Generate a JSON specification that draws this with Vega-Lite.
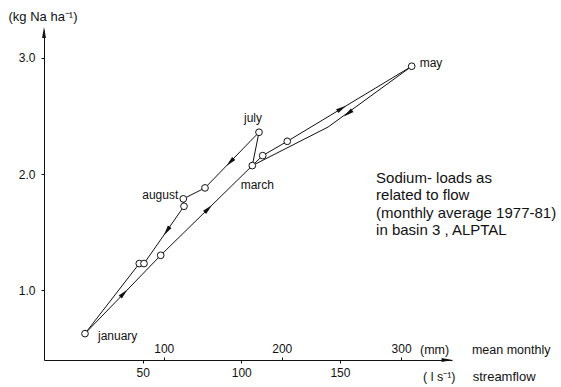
{
  "$schema": "https://vega.github.io/schema/vega-lite/v6.json",
  "width": 408,
  "height": 330,
  "autosize": "none",
  "padding": {"left": 44, "top": 30, "right": 109, "bottom": 27},
  "background": "white",
  "config": {
    "view": {"stroke": null},
    "font": "Liberation Sans",
    "axis": {"grid": false, "domainColor": "#111", "domainWidth": 1, "tickColor": "#111", "labelColor": "#111", "labelFont": "Liberation Sans", "labelFontSize": 12, "titleFont": "Liberation Sans", "titleColor": "#111"},
    "text": {"font": "Liberation Sans", "color": "#111", "fontSize": 12}
  },
  "datasets": {
    "samples": [
      {"id": "p1", "label": "january", "kind": "sample", "flow": 20.78, "load": 0.627},
      {"id": "p2", "label": null, "kind": "sample", "flow": 48.3, "load": 1.23},
      {"id": "p3", "label": null, "kind": "sample", "flow": 50.68, "load": 1.23},
      {"id": "p4", "label": null, "kind": "sample", "flow": 59.15, "load": 1.301},
      {"id": "p5", "label": "august", "kind": "sample", "flow": 70.6, "load": 1.787},
      {"id": "p6", "label": null, "kind": "sample", "flow": 70.96, "load": 1.723},
      {"id": "p7", "label": null, "kind": "sample", "flow": 81.6, "load": 1.881},
      {"id": "p8", "label": "march", "kind": "sample", "flow": 105.58, "load": 2.073},
      {"id": "p9", "label": "july", "kind": "sample", "flow": 108.97, "load": 2.36},
      {"id": "p10", "label": null, "kind": "sample", "flow": 110.85, "load": 2.159},
      {"id": "p11", "label": null, "kind": "sample", "flow": 123.31, "load": 2.282},
      {"id": "p12", "label": "may", "kind": "sample", "flow": 186.37, "load": 2.928},
      {"id": "b1", "label": null, "kind": "bend", "flow": 144.0, "load": 2.405}
    ],
    "path": [
      {"step": 1, "id": "p1"},
      {"step": 2, "id": "p4"},
      {"step": 3, "id": "p8"},
      {"step": 4, "id": "p10"},
      {"step": 5, "id": "p11"},
      {"step": 6, "id": "p12"},
      {"step": 7, "id": "b1"},
      {"step": 8, "id": "p8"},
      {"step": 9, "id": "p9"},
      {"step": 10, "id": "p7"},
      {"step": 11, "id": "p5"},
      {"step": 12, "id": "p6"},
      {"step": 13, "id": "p3"},
      {"step": 14, "id": "p2"},
      {"step": 15, "id": "p1"}
    ],
    "arrows": [
      {"flow": 40.5, "load": 0.974, "heading": 44},
      {"flow": 83.3, "load": 1.702, "heading": 45.6},
      {"flow": 94.3, "load": 2.102, "heading": 224.2},
      {"flow": 62.2, "load": 1.509, "heading": 214.9},
      {"flow": 150.9, "load": 2.565, "heading": 58.9},
      {"flow": 154.1, "load": 2.522, "heading": 233}
    ],
    "anchor": [{}]
  },
  "resolve": {"axis": {"x": "independent"}},
  "layer": [
    {
      "data": {"name": "path"},
      "transform": [{"lookup": "id", "from": {"data": {"name": "samples"}, "key": "id", "fields": ["flow", "load"]}}],
      "mark": {"type": "line", "color": "#111", "strokeWidth": 1},
      "encoding": {
        "x": {"field": "flow", "type": "quantitative", "scale": {"domain": [0, 206.8], "nice": false, "zero": false},
              "axis": {"orient": "bottom", "values": [50, 100, 150], "tickSize": 3, "labelPadding": 4, "title": null}},
        "y": {"field": "load", "type": "quantitative", "scale": {"domain": [0.4, 3.24], "nice": false, "zero": false},
              "axis": {"values": [1, 2, 3], "format": ".1f", "tickSize": 3, "labelPadding": 6, "title": "(kg Na  ha⁻¹)", "titleAngle": 0, "titleAlign": "left", "titleBaseline": "middle", "titleX": -36, "titleY": -14, "titleFontSize": 13, "titleFontWeight": "normal"}},
        "order": {"field": "step", "type": "quantitative"}
      }
    },
    {
      "data": {"name": "samples"},
      "transform": [{"filter": "datum.kind === 'sample'"}],
      "mark": {"type": "point", "shape": "circle", "filled": true, "fill": "white", "stroke": "#111", "strokeWidth": 1, "size": 45, "opacity": 1},
      "encoding": {
        "x": {"field": "flow", "type": "quantitative",
              "axis": {"orient": "top", "offset": -330, "values": [60.7, 120.5, 181.0], "labelExpr": "format(round(datum.value / 0.6033 / 100) * 100, 'd')", "domain": false, "tickSize": 3, "labelPadding": 2, "title": null}},
        "y": {"field": "load", "type": "quantitative"}
      }
    },
    {
      "data": {"name": "arrows"},
      "mark": {"type": "point", "shape": "M0,-1L0.42,1L-0.42,1Z", "filled": true, "color": "#111", "size": 110, "opacity": 1},
      "encoding": {
        "x": {"field": "flow", "type": "quantitative", "axis": null},
        "y": {"field": "load", "type": "quantitative"},
        "angle": {"field": "heading", "type": "quantitative", "scale": null}
      }
    },
    {
      "data": {"name": "anchor"},
      "mark": {"type": "point", "shape": "M0,-1L0.35,1L-0.35,1Z", "filled": true, "color": "#111", "size": 121, "opacity": 1, "angle": 0},
      "encoding": {"x": {"datum": 0, "type": "quantitative", "axis": null}, "y": {"datum": 3.218, "type": "quantitative"}}
    },
    {
      "data": {"name": "anchor"},
      "mark": {"type": "point", "shape": "M0,-1L0.35,1L-0.35,1Z", "filled": true, "color": "#111", "size": 121, "opacity": 1, "angle": 90},
      "encoding": {"x": {"datum": 204.3, "type": "quantitative", "axis": null}, "y": {"datum": 0.4, "type": "quantitative"}}
    },
    {
      "data": {"name": "samples"},
      "transform": [{"filter": "datum.label === 'january'"}],
      "mark": {"type": "text", "align": "left", "baseline": "middle", "dx": 13, "dy": 2},
      "encoding": {"x": {"field": "flow", "type": "quantitative", "axis": null}, "y": {"field": "load", "type": "quantitative"}, "text": {"field": "label"}}
    },
    {
      "data": {"name": "samples"},
      "transform": [{"filter": "datum.label === 'august'"}],
      "mark": {"type": "text", "align": "right", "baseline": "middle", "dx": -5, "dy": -4},
      "encoding": {"x": {"field": "flow", "type": "quantitative", "axis": null}, "y": {"field": "load", "type": "quantitative"}, "text": {"field": "label"}}
    },
    {
      "data": {"name": "samples"},
      "transform": [{"filter": "datum.label === 'march'"}],
      "mark": {"type": "text", "align": "center", "baseline": "middle", "dx": 5, "dy": 19},
      "encoding": {"x": {"field": "flow", "type": "quantitative", "axis": null}, "y": {"field": "load", "type": "quantitative"}, "text": {"field": "label"}}
    },
    {
      "data": {"name": "samples"},
      "transform": [{"filter": "datum.label === 'july'"}],
      "mark": {"type": "text", "align": "center", "baseline": "middle", "dx": -6, "dy": -14},
      "encoding": {"x": {"field": "flow", "type": "quantitative", "axis": null}, "y": {"field": "load", "type": "quantitative"}, "text": {"field": "label"}}
    },
    {
      "data": {"name": "samples"},
      "transform": [{"filter": "datum.label === 'may'"}],
      "mark": {"type": "text", "align": "left", "baseline": "middle", "dx": 8, "dy": -3},
      "encoding": {"x": {"field": "flow", "type": "quantitative", "axis": null}, "y": {"field": "load", "type": "quantitative"}, "text": {"field": "label"}}
    },
    {
      "data": {"name": "anchor"},
      "mark": {"type": "text", "align": "left", "baseline": "alphabetic", "fontSize": 15, "lineHeight": 17.5,
               "text": ["Sodium- loads  as", "related  to  flow", "(monthly average 1977-81)", "in basin 3 ,  ALPTAL"]},
      "encoding": {"x": {"datum": 168.3, "type": "quantitative", "axis": null}, "y": {"datum": 1.924, "type": "quantitative"}}
    },
    {
      "data": {"name": "anchor"},
      "mark": {"type": "text", "align": "left", "baseline": "middle", "fontSize": 12.5, "text": "(mm)"},
      "encoding": {"x": {"datum": 190.6, "type": "quantitative", "axis": null}, "y": {"datum": 0.49, "type": "quantitative"}}
    },
    {
      "data": {"name": "anchor"},
      "mark": {"type": "text", "align": "left", "baseline": "middle", "fontSize": 12.5, "text": "mean  monthly"},
      "encoding": {"x": {"datum": 216.9, "type": "quantitative", "axis": null}, "y": {"datum": 0.49, "type": "quantitative"}}
    },
    {
      "data": {"name": "anchor"},
      "mark": {"type": "text", "align": "left", "baseline": "middle", "fontSize": 12.5, "text": "( l  s⁻¹)"},
      "encoding": {"x": {"datum": 192.1, "type": "quantitative", "axis": null}, "y": {"datum": 0.257, "type": "quantitative"}}
    },
    {
      "data": {"name": "anchor"},
      "mark": {"type": "text", "align": "left", "baseline": "middle", "fontSize": 13, "text": "streamflow"},
      "encoding": {"x": {"datum": 217.3, "type": "quantitative", "axis": null}, "y": {"datum": 0.257, "type": "quantitative"}}
    }
  ]
}
